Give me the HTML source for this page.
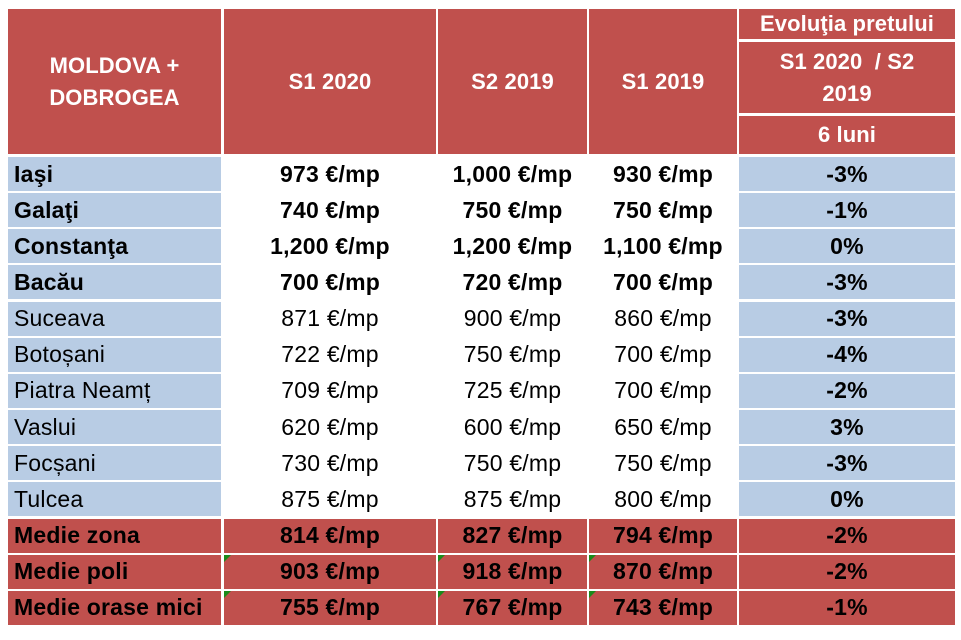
<!DOCTYPE html>
<html><head><meta charset="utf-8"><style>
body{margin:0;width:961px;height:640px;background:#fff;position:relative;overflow:hidden;font-family:"Liberation Sans",Arial,sans-serif;}
.c{position:absolute;box-sizing:border-box;display:flex;align-items:center;justify-content:center;font-size:23px;letter-spacing:0.2px;color:#000;white-space:nowrap;}
.r{background:#C0504D;}
.b{background:#B8CCE4;}
.h{color:#fff;font-weight:bold;text-align:center;line-height:32px;font-size:22px;letter-spacing:0.1px;}
.l{justify-content:flex-start;padding-left:6px;}
.bd{font-weight:bold;}
.tri{position:absolute;width:0;height:0;border-top:7px solid #1a8a1a;border-right:7px solid transparent;}
</style></head><body>
<div class="c r h" style="left:8px;top:9px;width:213px;height:145px;">MOLDOVA +<br>DOBROGEA</div>
<div class="c r h" style="left:224px;top:9px;width:212px;height:145px;">S1 2020</div>
<div class="c r h" style="left:438px;top:9px;width:149px;height:145px;">S2 2019</div>
<div class="c r h" style="left:589px;top:9px;width:148px;height:145px;">S1 2019</div>
<div class="c r h" style="left:739px;top:9px;width:216px;height:30px;">Evoluţia pretului</div>
<div class="c r h" style="left:739px;top:42px;width:216px;height:71px;">S1 2020&nbsp; / S2<br>2019</div>
<div class="c r h" style="left:739px;top:116px;width:216px;height:38px;">6 luni</div>
<div id="rows"></div>
<script>
var d=[["Iaşi","973","1,000","930","-3%",1],["Galaţi","740","750","750","-1%",1],["Constanţa","1,200","1,200","1,100","0%",1],["Bacău","700","720","700","-3%",1],["Suceava","871","900","860","-3%",0],["Botoșani","722","750","700","-4%",0],["Piatra Neamț","709","725","700","-2%",0],["Vaslui","620","600","650","3%",0],["Focșani","730","750","750","-3%",0],["Tulcea","875","875","800","0%",0],["Medie zona","814","827","794","-2%",2],["Medie poli","903","918","870","-2%",3],["Medie orase mici","755","767","743","-1%",3]];
var h="";var cols=[[8,213],[224,212],[438,149],[589,148],[739,216]];
d.forEach(function(r,i){var y=157+i*36.15;var red=r[5]>=2;var bold=r[5]>=1;
for(var j=0;j<5;j++){var bg=red?"r":(j==0||j==4?"b":"");var txt=j==0?r[0]:(j==4?r[4]:r[j]+" €/mp");
var cls="c "+bg+(j==0?" l":"")+((bold||j==4)?" bd":"");
h+='<div class="'+cls+'" style="left:'+cols[j][0]+'px;top:'+y+'px;width:'+cols[j][1]+'px;height:34px;">'+txt+'</div>';
if(r[5]==3&&j>=1&&j<=3)h+='<div class="tri" style="left:'+cols[j][0]+'px;top:'+y+'px"></div>';}
});
document.getElementById("rows").innerHTML=h;
</script>
</body></html>
